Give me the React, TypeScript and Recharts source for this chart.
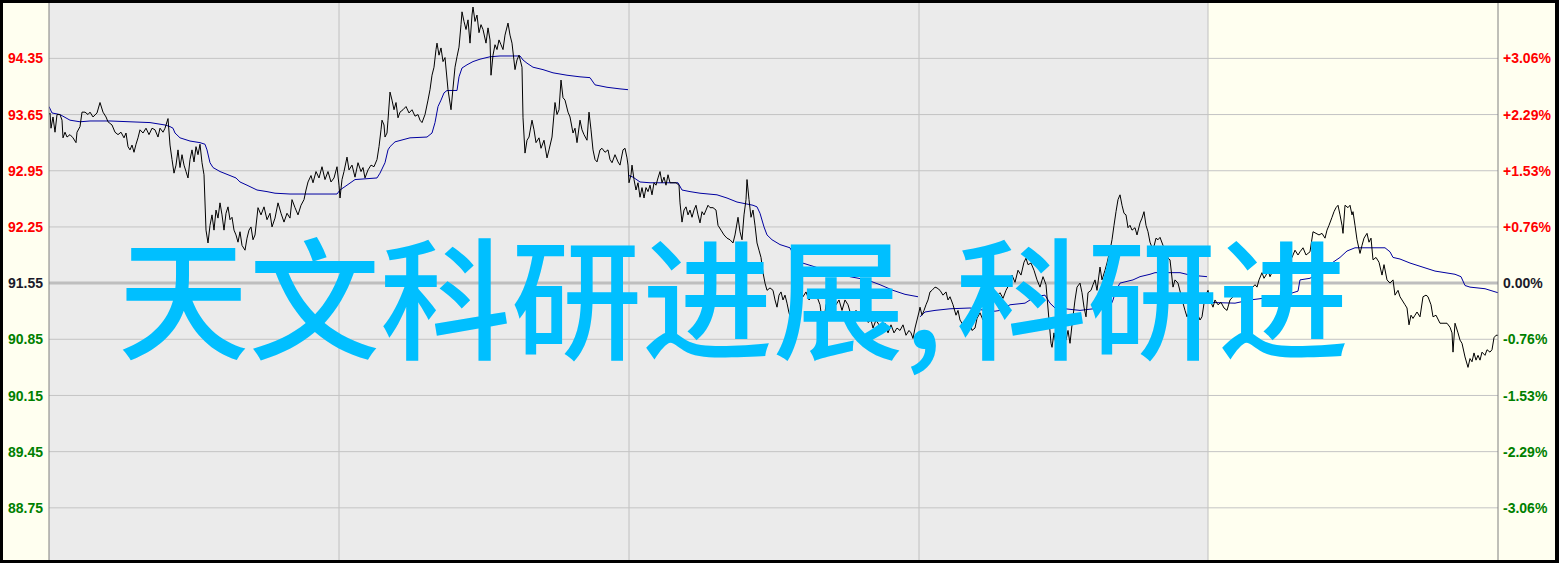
import React from 'react';
import { ComposedChart, Line, XAxis, YAxis, ReferenceArea, ReferenceLine } from 'recharts';

const BASE_PRICE = 91.55;
const priceTicks = [94.35, 93.65, 92.95, 92.25, 91.55, 90.85, 90.15, 89.45, 88.75];
const pctTickLabels = ['+3.06%', '+2.29%', '+1.53%', '+0.76%', '0.00%', '-0.76%', '-1.53%', '-2.29%', '-3.06%'];
const sessionBreaks = [290, 580, 870, 1159];
const lastSessionStart = 1159;
const minuteDomain: [number, number] = [0, 1449];
const priceDomain: [number, number] = [88.1, 95.04];
const watermarkParts = ['天文科研进展,', '科研进'];

// [minute, price]
const priceSeries: [number, number][] = [
  [0,93.65],[1,93.67],[2,93.48],[4,93.62],[6,93.43],[8,93.65],[11,93.65],[13,93.58],[14,93.36],[16,93.43],[18,93.37],[21,93.40],[24,93.36],[27,93.30],[28,93.43],[31,93.50],[33,93.68],[36,93.68],[39,93.65],[41,93.68],[44,93.62],[48,93.67],[51,93.80],[54,93.68],[57,93.62],[59,93.56],[63,93.52],[66,93.43],[69,93.40],[72,93.43],[75,93.36],[77,93.42],[79,93.25],[81,93.21],[83,93.27],[85,93.18],[87,93.28],[89,93.36],[91,93.46],[94,93.42],[97,93.48],[100,93.40],[103,93.48],[106,93.46],[109,93.37],[111,93.48],[114,93.43],[116,93.48],[119,93.60],[121,93.27],[123,93.09],[125,92.92],[127,93.02],[129,93.21],[131,92.99],[133,93.15],[135,93.02],[137,92.94],[139,92.86],[141,93.09],[143,93.21],[145,93.06],[147,93.25],[149,93.15],[151,93.28],[153,93.05],[155,92.90],[157,92.21],[159,92.05],[161,92.27],[163,92.40],[165,92.21],[167,92.46],[169,92.36],[171,92.55],[173,92.40],[175,92.21],[177,92.42],[179,92.50],[181,92.34],[183,92.37],[185,92.21],[187,92.15],[189,92.06],[191,92.19],[193,92.02],[196,91.96],[198,92.11],[200,92.21],[202,92.25],[204,92.09],[206,92.15],[209,92.49],[212,92.40],[215,92.50],[218,92.34],[221,92.42],[223,92.25],[226,92.36],[229,92.55],[232,92.42],[235,92.31],[238,92.42],[241,92.36],[243,92.59],[246,92.49],[249,92.40],[252,92.52],[255,92.59],[257,92.71],[259,92.81],[262,92.89],[264,92.80],[267,92.94],[270,92.86],[273,93.00],[276,92.84],[279,92.94],[282,92.81],[285,92.86],[288,93.00],[290,92.77],[291,92.61],[293,92.84],[295,92.94],[298,93.12],[300,92.96],[303,93.02],[306,92.87],[309,93.05],[312,92.94],[314,92.99],[316,92.86],[319,92.96],[322,93.02],[325,93.00],[328,93.09],[330,93.25],[332,93.46],[333,93.58],[335,93.52],[336,93.37],[338,93.42],[339,93.58],[341,93.93],[343,93.83],[345,93.71],[347,93.80],[349,93.61],[351,93.68],[354,93.71],[357,93.75],[360,93.67],[363,93.71],[366,93.63],[369,93.65],[371,93.58],[373,93.55],[376,93.65],[379,93.83],[381,93.96],[383,94.14],[385,94.24],[387,94.46],[388,94.54],[390,94.39],[392,94.48],[394,94.31],[396,94.36],[399,93.96],[402,93.71],[404,93.98],[406,94.24],[408,94.37],[410,94.49],[412,94.77],[413,94.93],[415,94.81],[417,94.71],[419,94.83],[421,94.54],[423,94.89],[424,94.99],[426,94.81],[428,94.89],[430,94.67],[432,94.77],[434,94.71],[437,94.54],[439,94.73],[441,94.58],[442,94.14],[444,94.39],[446,94.52],[448,94.46],[450,94.58],[452,94.52],[454,94.46],[456,94.64],[459,94.79],[461,94.64],[463,94.54],[466,94.21],[468,94.33],[470,94.39],[473,94.24],[474,93.61],[476,93.17],[478,93.33],[480,93.37],[483,93.58],[485,93.46],[487,93.30],[490,93.36],[492,93.23],[495,93.33],[498,93.11],[500,93.21],[503,93.37],[506,93.80],[508,93.65],[510,93.71],[512,94.08],[514,93.86],[516,93.83],[519,93.68],[521,93.62],[524,93.42],[526,93.48],[528,93.30],[531,93.58],[533,93.46],[535,93.40],[538,93.33],[540,93.68],[542,93.46],[544,93.21],[546,93.09],[548,93.06],[551,93.21],[553,93.23],[556,93.18],[559,93.21],[561,93.09],[563,93.05],[566,93.15],[569,93.06],[571,93.02],[574,93.21],[576,93.23],[578,93.11],[579,93.02],
  [580,92.80],[582,92.90],[583,93.02],[585,92.84],[587,92.71],[589,92.80],[591,92.62],[593,92.74],[595,92.61],[597,92.74],[599,92.69],[601,92.77],[603,92.65],[605,92.80],[607,92.77],[609,92.86],[611,92.94],[613,92.80],[615,92.87],[617,92.77],[619,92.90],[621,92.80],[624,92.80],[627,92.80],[630,92.77],[631,92.55],[633,92.31],[635,92.46],[637,92.50],[639,92.40],[641,92.46],[643,92.37],[645,92.46],[647,92.52],[649,92.40],[651,92.30],[653,92.44],[655,92.40],[657,92.46],[659,92.52],[661,92.49],[664,92.49],[667,92.46],[669,92.27],[672,92.21],[675,92.15],[678,92.11],[681,92.09],[684,92.05],[686,92.15],[689,92.37],[691,92.19],[693,92.09],[695,92.40],[697,92.59],[698,92.84],[700,92.59],[702,92.37],[704,92.46],[706,92.27],[708,92.05],[710,91.96],[712,91.87],[714,91.68],[716,91.55],[718,91.46],[721,91.49],[724,91.46],[726,91.34],[728,91.25],[730,91.40],[732,91.44],[734,91.34],[736,91.40],[738,91.30],[740,91.18],[742,91.11],[744,90.96],[746,91.38],[748,91.34],[751,91.43],[754,91.38],[757,91.44],[760,91.34],[763,91.38],[766,91.43],[768,91.38],[771,91.28],[774,91.00],[777,91.28],[780,91.34],[784,91.36],[787,91.28],[790,91.34],[793,91.21],[796,91.34],[799,91.28],[802,91.15],[804,91.00],[807,91.21],[810,91.11],[813,91.09],[816,91.21],[819,91.06],[822,91.09],[824,90.99],[827,91.09],[830,91.03],[833,90.96],[836,91.05],[839,90.93],[842,91.03],[845,90.93],[848,90.99],[851,90.96],[854,91.03],[857,90.90],[860,90.96],[862,90.93],[864,90.86],[866,90.99],[868,91.09],[870,91.19],
  [871,91.25],[873,91.15],[875,91.21],[877,91.28],[879,91.34],[881,91.44],[883,91.46],[886,91.50],[888,91.49],[891,91.46],[894,91.40],[897,91.44],[899,91.34],[901,91.38],[904,91.28],[907,91.15],[909,91.21],[911,91.09],[914,91.03],[916,90.96],[918,90.99],[921,91.05],[923,90.96],[926,90.99],[928,91.11],[931,91.18],[934,91.09],[937,91.21],[941,91.28],[944,91.34],[947,91.38],[951,91.43],[954,91.36],[957,91.46],[960,91.53],[963,91.65],[966,91.56],[969,91.71],[972,91.65],[975,91.81],[977,91.86],[979,91.78],[982,91.80],[985,91.71],[988,91.59],[991,91.50],[994,91.63],[997,91.53],[1000,91.09],[1002,90.80],[1003,90.75],[1005,90.93],[1007,90.78],[1009,90.96],[1011,91.06],[1014,90.96],[1017,90.84],[1019,90.96],[1021,90.80],[1023,91.03],[1026,91.34],[1028,91.50],[1031,91.55],[1033,91.43],[1035,91.25],[1037,91.13],[1039,91.43],[1042,91.46],[1044,91.53],[1046,91.59],[1048,91.46],[1051,91.75],[1053,91.59],[1056,91.71],[1058,91.80],[1061,91.96],[1063,92.09],[1065,92.27],[1067,92.44],[1069,92.59],[1071,92.65],[1073,92.52],[1075,92.42],[1077,92.40],[1079,92.24],[1081,92.27],[1083,92.21],[1086,92.24],[1088,92.15],[1091,92.30],[1093,92.36],[1095,92.44],[1097,92.27],[1099,92.19],[1101,92.06],[1104,91.96],[1107,92.11],[1109,92.09],[1111,92.12],[1114,92.02],[1117,91.96],[1119,91.86],[1121,91.84],[1124,91.50],[1126,91.59],[1129,91.55],[1132,91.40],[1134,91.30],[1136,91.21],[1138,91.13],[1140,91.18],[1143,91.11],[1146,91.25],[1149,91.15],[1151,91.09],[1153,91.13],[1156,91.38],[1159,91.46],
  [1161,91.34],[1164,91.25],[1166,91.34],[1169,91.28],[1172,91.31],[1175,91.24],[1178,91.21],[1181,91.34],[1184,91.38],[1187,91.44],[1191,91.38],[1195,91.46],[1199,91.40],[1203,91.49],[1206,91.53],[1208,91.50],[1210,91.59],[1213,91.68],[1215,91.61],[1217,91.65],[1219,91.71],[1221,91.63],[1224,91.71],[1227,91.69],[1230,91.74],[1233,91.71],[1236,91.81],[1239,91.90],[1241,91.96],[1243,91.87],[1246,91.96],[1249,91.90],[1251,91.94],[1254,91.99],[1257,91.90],[1261,91.94],[1264,92.19],[1267,92.17],[1270,92.15],[1273,92.17],[1276,92.11],[1278,92.21],[1280,92.27],[1283,92.37],[1285,92.44],[1287,92.49],[1289,92.52],[1291,92.40],[1293,92.27],[1294,92.17],[1296,92.52],[1299,92.49],[1301,92.52],[1303,92.40],[1304,92.44],[1306,92.27],[1308,92.09],[1311,91.92],[1313,92.02],[1315,92.11],[1318,92.17],[1320,92.06],[1322,92.11],[1324,91.84],[1327,91.87],[1330,91.81],[1333,91.65],[1335,91.78],[1338,91.59],[1341,91.55],[1344,91.59],[1346,91.40],[1349,91.46],[1351,91.38],[1353,91.34],[1356,91.28],[1358,91.24],[1360,91.03],[1362,91.15],[1364,91.11],[1366,91.15],[1368,91.19],[1371,91.13],[1374,91.38],[1377,91.40],[1379,91.38],[1382,91.28],[1384,91.13],[1387,91.15],[1391,91.05],[1395,91.05],[1398,91.05],[1401,91.00],[1403,90.93],[1404,90.69],[1406,91.05],[1409,90.93],[1411,90.84],[1413,90.80],[1416,90.63],[1419,90.50],[1421,90.61],[1423,90.57],[1425,90.68],[1427,90.59],[1429,90.65],[1431,90.59],[1433,90.69],[1436,90.65],[1438,90.72],[1441,90.69],[1443,90.72],[1445,90.87],[1447,90.90],[1449,90.90]
];

// session average price, [minute, price]
const avgSession1: [number, number][] = [[0,93.75],[3,93.67],[11,93.65],[21,93.58],[31,93.56],[41,93.57],[61,93.57],[81,93.56],[101,93.55],[116,93.52],[121,93.50],[124,93.48],[126,93.42],[131,93.36],[141,93.32],[151,93.30],[156,93.28],[158,93.21],[161,93.05],[164,92.99],[171,92.94],[187,92.86],[191,92.81],[198,92.77],[208,92.71],[218,92.69],[226,92.67],[241,92.66],[288,92.66],[291,92.71],[298,92.77],[306,92.84],[328,92.86],[331,92.92],[336,93.05],[339,93.21],[341,93.25],[346,93.31],[361,93.36],[378,93.37],[383,93.42],[386,93.55],[389,93.75],[392,93.83],[395,93.92],[398,93.95],[408,93.95],[410,94.12],[413,94.23],[418,94.27],[424,94.31],[431,94.34],[441,94.37],[451,94.38],[471,94.38],[474,94.33],[478,94.29],[484,94.24],[494,94.21],[504,94.17],[518,94.14],[531,94.12],[541,94.11],[546,94.02],[558,93.99],[571,93.97],[579,93.96]];
const avgSession2: [number, number][] = [[580,92.89],[584,92.87],[591,92.81],[601,92.80],[629,92.80],[633,92.71],[641,92.69],[651,92.67],[668,92.65],[678,92.61],[688,92.56],[696,92.54],[704,92.52],[708,92.50],[711,92.42],[715,92.25],[718,92.15],[723,92.09],[731,92.03],[741,91.99],[746,91.87],[751,91.81],[764,91.76],[781,91.69],[801,91.63],[818,91.59],[831,91.53],[844,91.46],[856,91.41],[869,91.38]];
const avgSession3: [number, number][] = [[871,91.13],[876,91.19],[886,91.21],[901,91.23],[921,91.24],[936,91.21],[946,91.20],[951,91.21],[961,91.28],[976,91.30],[981,91.34],[991,91.39],[996,91.40],[1001,91.30],[1006,91.24],[1016,91.23],[1031,91.21],[1051,91.24],[1061,91.25],[1064,91.34],[1067,91.46],[1071,91.55],[1084,91.59],[1091,91.63],[1101,91.66],[1106,91.68],[1131,91.68],[1141,91.65],[1158,91.63]];
const avgSession4: [number, number][] = [[1159,91.31],[1186,91.30],[1201,91.34],[1214,91.36],[1231,91.38],[1249,91.45],[1251,91.59],[1261,91.61],[1266,91.65],[1276,91.74],[1284,91.81],[1291,91.87],[1298,91.95],[1306,91.99],[1336,91.99],[1341,91.94],[1344,91.87],[1351,91.85],[1361,91.80],[1371,91.76],[1386,91.70],[1406,91.66],[1412,91.63],[1416,91.52],[1421,91.50],[1436,91.48],[1449,91.43]];

const toRows = (arr: [number, number][]) => arr.map(([t, p]) => ({ t, p }));
const priceRows = toRows(priceSeries);
const avgRows = [avgSession1, avgSession2, avgSession3, avgSession4].map(toRows);

const LABEL_FONT = "'Liberation Sans', Arial, sans-serif";
const tickColor = (v: number) => (v > BASE_PRICE + 1e-9 ? '#FF0000' : v < BASE_PRICE - 1e-9 ? '#008000' : '#1A1A2A');

const LeftTick = (props: any) => {
  const { x, y, payload } = props;
  const v = Number(payload.value);
  return (
    <text x={x} y={y} dy="0.36em" textAnchor="end" fill={tickColor(v)} fontFamily={LABEL_FONT} fontWeight="bold" fontSize={14}>
      {v.toFixed(2)}
    </text>
  );
};

const RightTick = (props: any) => {
  const { x, y, payload } = props;
  const v = Number(payload.value);
  const idx = priceTicks.findIndex((p) => Math.abs(p - v) < 1e-6);
  return (
    <text x={x} y={y} dy="0.36em" textAnchor="start" fill={tickColor(v)} fontFamily={LABEL_FONT} fontWeight="bold" fontSize={14}>
      {idx >= 0 ? pctTickLabels[idx] : ''}
    </text>
  );
};

export default function App() {
  return (
    <div style={{ position: 'absolute', left: 0, top: 0, width: 1559, height: 563, background: '#000', overflow: 'hidden' }}>
      <div style={{ position: 'absolute', left: 3, top: 3, width: 1552, height: 557, background: '#FFFFF0' }}>
        <ComposedChart width={1552} height={557} data={priceRows} margin={{ top: 0, right: 0, bottom: 0, left: 0 }}>
          <XAxis dataKey="t" type="number" domain={minuteDomain} hide allowDataOverflow />
          <YAxis
            yAxisId="left"
            orientation="left"
            type="number"
            domain={priceDomain}
            ticks={priceTicks}
            interval={0}
            width={46}
            allowDataOverflow
            axisLine={{ stroke: '#808080' }}
            tickLine={false}
            tickSize={0}
            tickMargin={6}
            tick={<LeftTick />}
          />
          <YAxis
            yAxisId="right"
            orientation="right"
            type="number"
            domain={priceDomain}
            ticks={priceTicks}
            interval={0}
            width={57}
            allowDataOverflow
            axisLine={{ stroke: '#808080' }}
            tickLine={false}
            tickSize={0}
            tickMargin={5}
            tick={<RightTick />}
          />
          <ReferenceArea yAxisId="left" x1={minuteDomain[0]} x2={lastSessionStart} fill="#EBEBEB" fillOpacity={1} stroke="none" />
          {sessionBreaks.map((t) => (
            <ReferenceLine key={'v' + t} yAxisId="left" x={t} stroke="#C0C0C0" strokeWidth={1} />
          ))}
          {priceTicks.map((p) => (
            <ReferenceLine
              key={'h' + p}
              yAxisId="left"
              y={p}
              stroke={p === BASE_PRICE ? '#BEBEBE' : '#C4C4C4'}
              strokeWidth={p === BASE_PRICE ? 3 : 1}
            />
          ))}
          {avgRows.map((rows, i) => (
            <Line
              key={'avg' + i}
              yAxisId="left"
              data={rows}
              dataKey="p"
              type="linear"
              stroke="#0000A0"
              strokeWidth={1}
              dot={false}
              activeDot={false}
              isAnimationActive={false}
            />
          ))}
          <Line
            yAxisId="left"
            dataKey="p"
            type="linear"
            stroke="#000000"
            strokeWidth={1}
            dot={false}
            activeDot={false}
            isAnimationActive={false}
          />
        </ComposedChart>
      </div>
      <svg width={1559} height={563} style={{ position: 'absolute', left: 0, top: 0, pointerEvents: 'none' }}>
        <text x={118} y={349} fill="#00BFFF" fontSize={131} fontWeight={500} fontFamily="'Noto Sans CJK SC', 'Noto Sans CJK JP', sans-serif">
          <tspan>{watermarkParts[0]}</tspan>
          <tspan dx={13}>{watermarkParts[1]}</tspan>
        </text>
      </svg>
    </div>
  );
}
